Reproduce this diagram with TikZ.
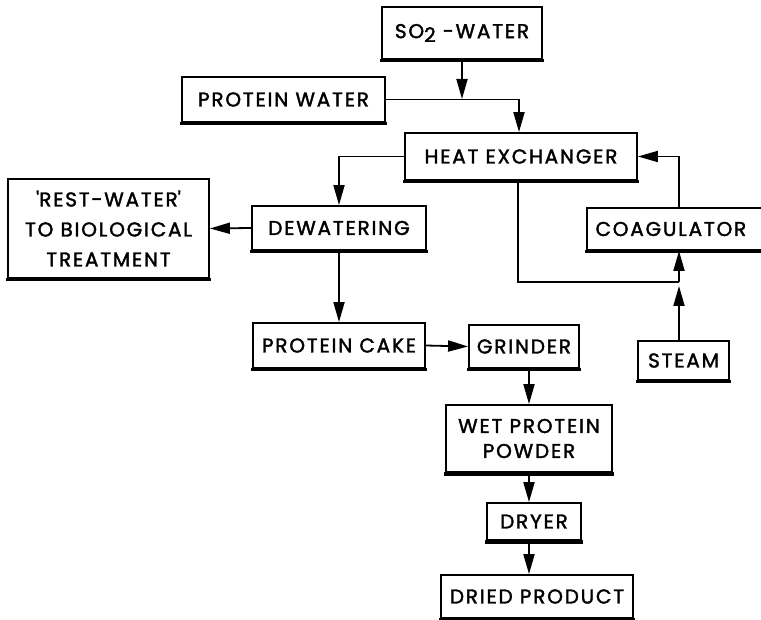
\documentclass[tikz,border=0pt]{standalone}
\usepackage{fontspec}
\setmainfont{Poppins}[LetterSpace=9,FakeBold=1.8]
\usetikzlibrary{arrows.meta,calc}
\begin{document}
\begin{tikzpicture}[x=1pt,y=-1pt,
  blk/.style={draw,line width=1.8pt,inner sep=0pt,align=center,
    font=\fontsize{20}{25}\selectfont},
  arr/.style={line width=1.8pt,-{Triangle[length=20pt,width=11pt]}},
  ln/.style={line width=1.8pt}]
\useasboundingbox (0,0) rectangle (761,620);
\node[blk,minimum width=160pt,minimum height=52pt] (so2) at (462,33) {SO\raisebox{-0.35ex}{2} -WATER};
\node[blk,minimum width=203pt,minimum height=45pt] (pw) at (283.5,99.5) {PROTEIN WATER};
\node[blk,minimum width=232pt,minimum height=47pt] (hx) at (521,156.5) {HEAT EXCHANGER};
\node[blk,minimum width=201pt,minimum height=99pt,font=\fontsize{20}{30}\selectfont] (rest) at (108.5,228.5) {\textquotesingle REST-WATER\textquotesingle\\TO BIOLOGICAL\\TREATMENT};
\node[blk,minimum width=174pt,minimum height=44pt] (dew) at (339,228) {DEWATERING};
\node[blk,minimum width=180pt,minimum height=42pt,anchor=west] (coag) at (586,229) {COAGULATOR\hspace*{12pt}};
\node[blk,minimum width=172pt,minimum height=45pt] (cake) at (339,345.5) {PROTEIN CAKE};
\node[blk,minimum width=110pt,minimum height=43pt] (grind) at (524,346.5) {GRINDER};
\node[blk,minimum width=91pt,minimum height=39pt] (steam) at (683.5,360.5) {STEAM};
\node[blk,minimum width=166pt,minimum height=67pt] (wpp) at (529,438.5) {WET PROTEIN\\POWDER};
\node[blk,minimum width=94pt,minimum height=37pt] (dryer) at (534,521.5) {DRYER};
\node[blk,minimum width=192pt,minimum height=43pt] (dried) at (537,596.5) {DRIED PRODUCT};
\foreach \n in {so2,pw,hx,rest,dew,coag,cake,grind,steam,wpp,dryer,dried}
  \draw[line width=3.2pt] ($(\n.south west)+(-0.9,1)$) -- ($(\n.south east)+(0.9,1)$);
\coordinate (j1) at (462,99);
\coordinate (cx) at (679,282);
\coordinate (j2) at (518,282);
\draw[arr] (so2.south -| j1) -- (j1);
\draw[arr] (pw.east) -| ($(hx.north)+(-2,0)$);
\draw[arr] (hx.west) -| (dew.north);
\draw[arr] (dew.west) -- (rest.east);
\draw[arr] (dew.south) -- (cake.north);
\draw[arr] (cake.east) -- (grind.east -| grind.west);
\draw[arr] (wpp.north |- grind.south) -- (wpp.north);
\draw[arr] (wpp.south) -- (wpp.south |- dryer.north);
\draw[arr] (wpp.south |- dryer.south) -- (wpp.south |- dried.north);
\draw[ln] (j2 |- hx.south) -- (j2) -- (cx);
\draw[arr] (cx) -- (cx |- coag.south);
\draw[arr] (steam.north -| cx) -- ($(cx)+(0,4)$);
\draw[arr] (cx |- coag.north) |- (hx.east);
\end{tikzpicture}
\end{document}
